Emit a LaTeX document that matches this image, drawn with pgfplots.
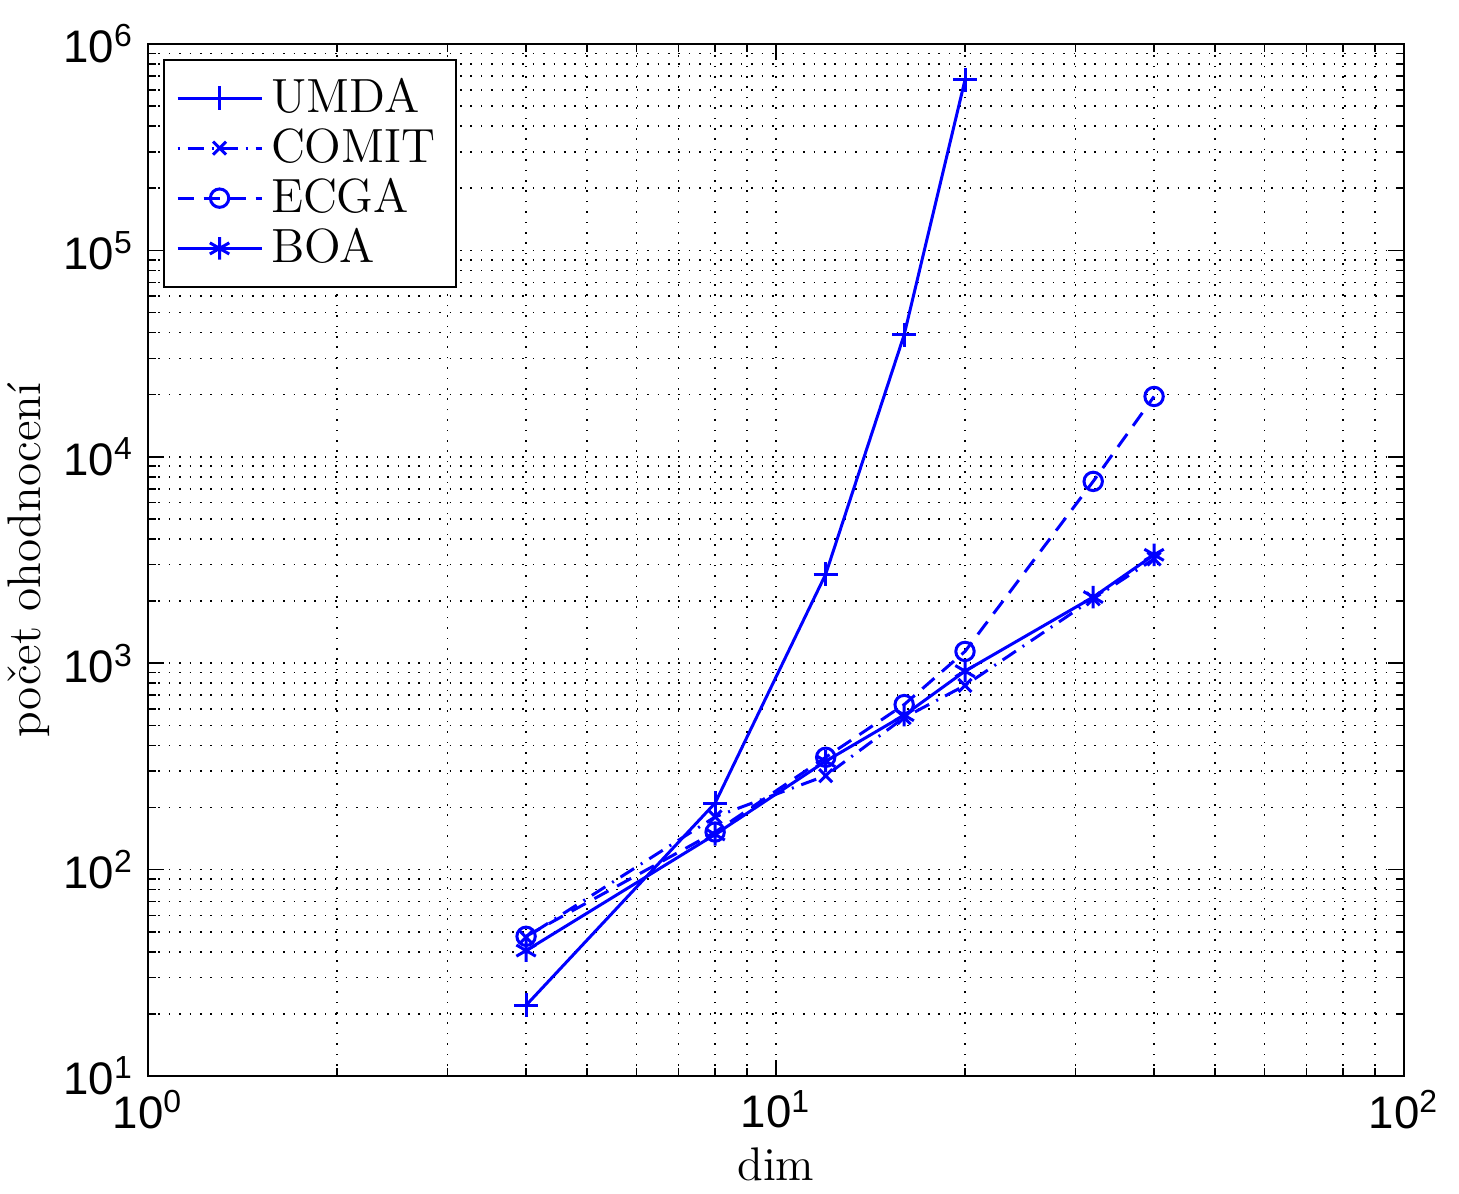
\documentclass[border=0pt]{standalone}
\usepackage{fontspec}
\setsansfont{Liberation Sans}
\usepackage{pgfplots}
\pgfplotsset{compat=1.18}
\begin{document}
\begin{tikzpicture}
\begin{axis}[
  scale only axis,
  width=314pt, height=258pt,
  xmode=log, ymode=log,
  log basis x=10, log basis y=10,
  xmin=1, xmax=100, ymin=10, ymax=1000000,
  xtick={1,10,100},
  ytick={10,100,1000,10000,100000,1000000},
  minor xtick={2,3,4,5,6,7,8,9,20,30,40,50,60,70,80,90},
  minor ytick={20,30,40,50,60,70,80,90,200,300,400,500,600,700,800,900,2000,3000,4000,5000,6000,7000,8000,9000,20000,30000,40000,50000,60000,70000,80000,90000,200000,300000,400000,500000,600000,700000,800000,900000},
  xticklabel={\pgfmathtruncatemacro\e{round(\tick)}\sffamily 10\textsuperscript{\e}},
  yticklabel={\pgfmathtruncatemacro\e{round(\tick)}\sffamily 10\textsuperscript{\e}},
  tick label style={font=\fontsize{11.4}{13}\selectfont},
  label style={font=\fontsize{11.8}{13}\selectfont},
  xlabel={dim},
  ylabel={počet ohodnocení},
  xlabel style={yshift=2pt},
  ylabel style={yshift=-3.5pt},
  tick align=inside,
  major tick length=4pt,
  minor tick length=2pt,
  every tick/.style={black, line width=0.4pt},
  grid=both,
  major grid style={black, line width=0.4pt, dash pattern=on 0.4pt off 2.2pt},
  minor grid style={black, line width=0.4pt, dash pattern=on 0.4pt off 2.2pt},
  axis line style={black, line width=0.5pt},
  legend style={at={(0.012,0.9855)}, anchor=north west, draw=black, line width=0.5pt,
    font=\fontsize{12}{13}\selectfont, cells={anchor=west},
    row sep=-1.5pt, inner xsep=3pt, inner ysep=2.5pt},
  legend image code/.code={\draw[mark repeat=2,mark phase=2,#1] plot coordinates {(0pt,0pt) (10.5pt,0pt) (21pt,0pt)};},
  every axis plot/.append style={blue, line width=0.75pt, mark options={solid, line width=0.75pt}},
]
\addplot[blue, solid, mark=+, mark size=3pt] coordinates {
  (4,22) (8,210) (12,2700) (16,39000) (20,670000)};
\addlegendentry{UMDA}
\addplot[blue, dash pattern=on 0.5pt off 2pt on 4pt off 2pt, mark=x, mark size=2.3pt] coordinates {
  (4,47) (8,180) (12,285) (16,545) (20,780) (32,2050) (40,3200)};
\addlegendentry{COMIT}
\addplot[blue, dash pattern=on 4pt off 2.5pt, mark=o, mark size=2.3pt] coordinates {
  (4,47.5) (8,152) (12,350) (16,630) (20,1140) (32,7600) (40,19600)};
\addlegendentry{ECGA}
\addplot[blue, solid, mark=asterisk, mark size=2.8pt] coordinates {
  (4,40.5) (8,148) (12,335) (16,560) (20,915) (32,2090) (40,3350)};
\addlegendentry{BOA}
\end{axis}
\pgfresetboundingbox
\path (current axis.south west) +(-37pt,-29.5pt) (current axis.north east) +(13.75pt,11pt);
\end{tikzpicture}
\end{document}
